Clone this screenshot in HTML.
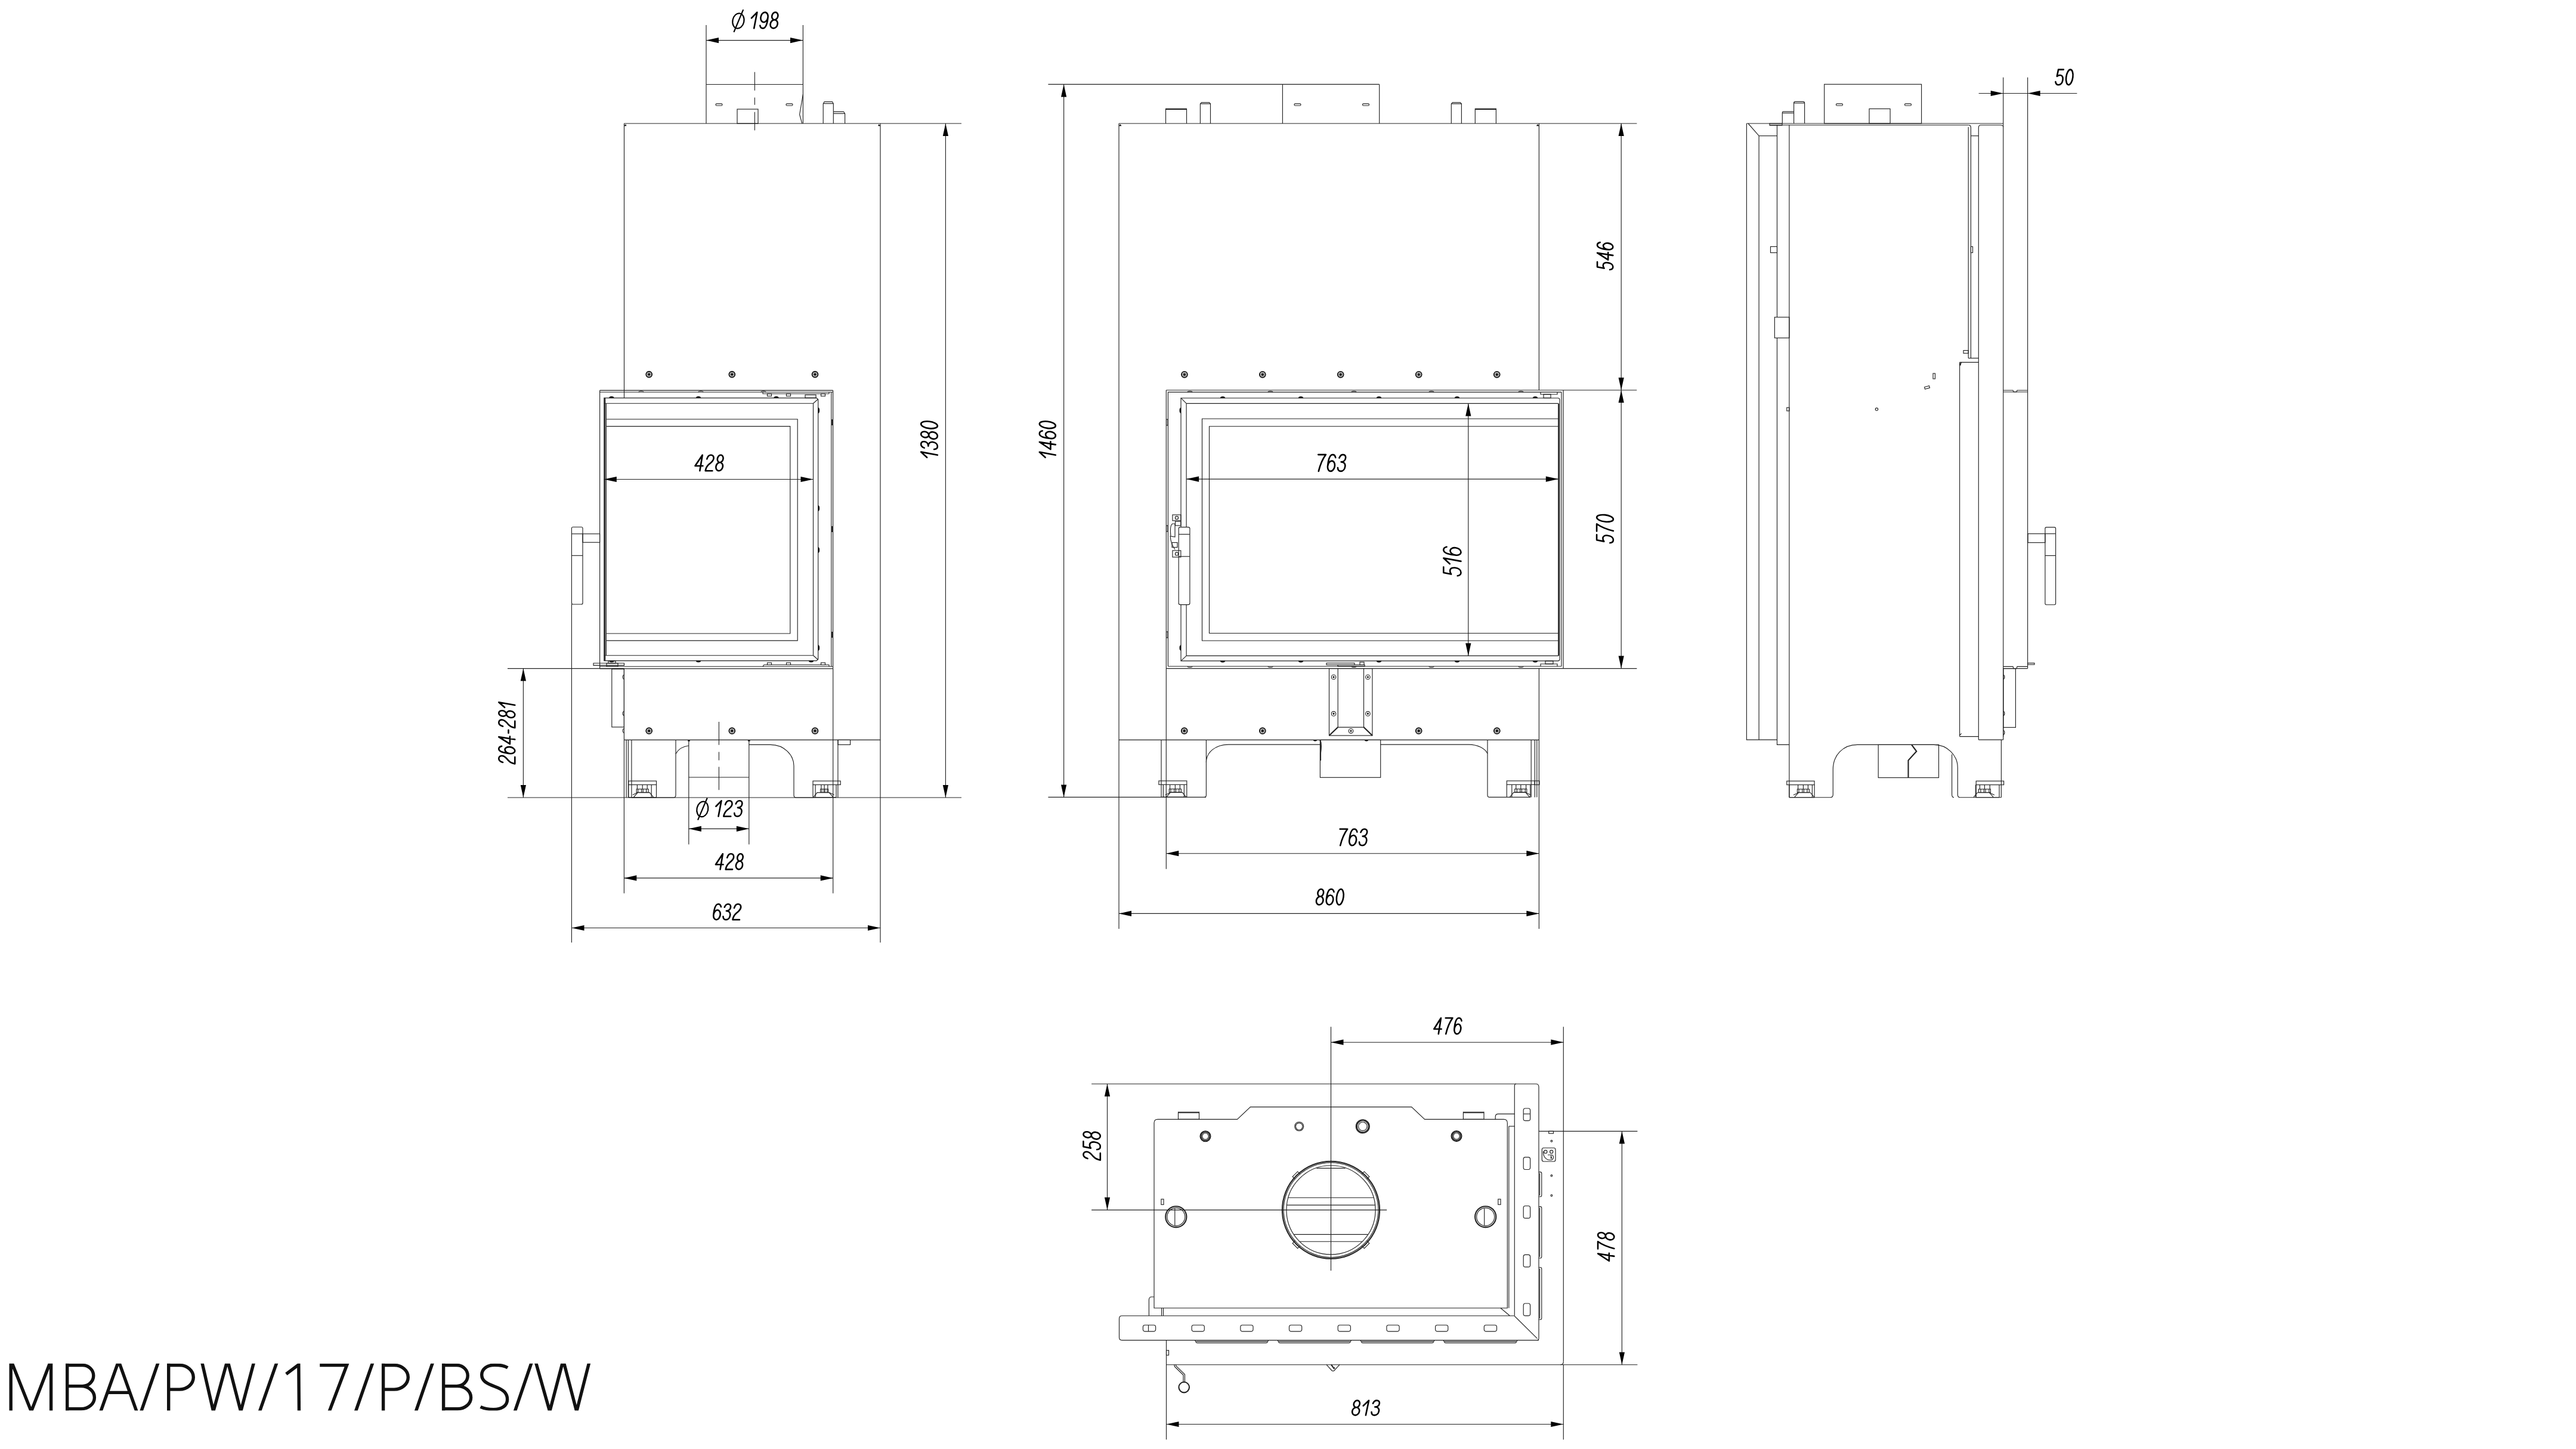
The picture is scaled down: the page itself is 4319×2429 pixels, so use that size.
<!DOCTYPE html>
<html><head><meta charset="utf-8"><title>MBA/PW/17/P/BS/W</title>
<style>
html,body{margin:0;padding:0;background:#fff;}
body{width:4319px;height:2429px;overflow:hidden;}
svg{display:block;}
svg line, svg path, svg rect, svg circle, svg ellipse{fill:none;stroke:#222;stroke-width:1.15;}
svg .thick{stroke-width:2.1;}
svg .thick2{stroke-width:1.25;}
svg .thin{stroke-width:1.1;}
svg .fill{fill:#111;stroke:#111;stroke-width:0.6;}
svg .ar{fill:#000;stroke:none;}
svg .sc{stroke-width:1.9;stroke:#111;}
svg .wf{fill:#fff;}
svg .ht{font-family:"Liberation Sans",sans-serif;fill:#000;fill-opacity:0;stroke:none;}
svg .scg{stroke-width:1.2;stroke:#999;}
.dt{font-family:"Liberation Sans",sans-serif;font-style:italic;fill:#000;}
svg .ttl{fill:none;stroke:#111;stroke-width:5.4;stroke-linejoin:miter;stroke-miterlimit:30;stroke-linecap:butt;}
svg .dg{fill:none;stroke:#000;stroke-width:2.6px;vector-effect:non-scaling-stroke;stroke-linecap:round;stroke-linejoin:round;}
svg .phi{fill:none;stroke:#000;stroke-width:2.2;}
.tt{font-family:"Liberation Sans",sans-serif;font-size:113px;fill:#151515;stroke:#fff;stroke-width:4.5px;paint-order:normal;}
</style></head>
<body>
<svg width="4319" height="2429" viewBox="0 0 4319 2429">
<rect x="0" y="0" width="4319" height="2429" style="fill:#fff;stroke:none"/>
<line x1="1046.5" y1="207" x2="1612" y2="207"/>
<line x1="1046.5" y1="207" x2="1046.5" y2="667"/>
<line x1="1476" y1="207" x2="1476" y2="1580"/>
<path d="M1046.5,211 L1049,208.5 L1050,211Z" class="fill"/>
<path d="M1476,211 L1473.5,208.5 L1472.5,211Z" class="fill"/>
<line x1="1184" y1="42" x2="1184" y2="207"/>
<line x1="1346.4" y1="42" x2="1346.4" y2="207"/>
<path d="M1346.4,158 L1340.6,192 L1344.8,207"/>
<line x1="1184" y1="141.5" x2="1346" y2="141.5"/>
<rect x="1236" y="183" width="35" height="24"/>
<rect x="1200" y="173.8" width="11" height="3.2" rx="1.5"/>
<rect x="1318" y="173.8" width="11" height="3.2" rx="1.5"/>
<path d="M1265.4,120.8 L1265.4,151.8 M1265.4,163.4 L1265.4,175.8 M1265.4,187.8 L1265.4,218.4" class="thin"/>
<path d="M1380.2,207 L1380.2,173.8 L1382.2,170.6 L1395.5,170.6 L1397.3,173.8 L1397.3,207"/>
<line x1="1380.2" y1="173.6" x2="1397.3" y2="173.6"/>
<path d="M1397.3,187.3 L1414.5,187.3 L1416.6,190.5 L1416.6,207"/>
<line x1="1397.3" y1="190.4" x2="1416.6" y2="190.4"/>
<line x1="1184" y1="67.6" x2="1346" y2="67.6"/>
<path class="ar" d="M1184,67.6 L1205,63 L1205,72.2 Z"/>
<path class="ar" d="M1346,67.6 L1325,72.2 L1325,63 Z"/>
<circle cx="1088.2" cy="627.6" r="4.9" class="sc"/>
<circle cx="1088.2" cy="627.6" r="2.9" class="scg"/>
<circle cx="1088.2" cy="627.6" r="1.9" class="fill"/>
<circle cx="1227.3" cy="627.6" r="4.9" class="sc"/>
<circle cx="1227.3" cy="627.6" r="2.9" class="scg"/>
<circle cx="1227.3" cy="627.6" r="1.9" class="fill"/>
<circle cx="1366.5" cy="627.6" r="4.9" class="sc"/>
<circle cx="1366.5" cy="627.6" r="2.9" class="scg"/>
<circle cx="1366.5" cy="627.6" r="1.9" class="fill"/>
<line x1="1005.6" y1="654.4" x2="1396.6" y2="654.4"/>
<line x1="1005.6" y1="657.2" x2="1396.6" y2="657.2"/>
<line x1="1005.6" y1="654.4" x2="1005.6" y2="1120.8"/>
<line x1="1396.6" y1="654.4" x2="1396.6" y2="1120.8"/>
<line x1="1393.8" y1="657.2" x2="1393.8" y2="1117.2"/>
<line x1="1005.6" y1="1117.2" x2="1396.6" y2="1117.2"/>
<path d="M1012.8,1107.6 L1012.8,667.1 L1369,667.1 L1371.7,669.5 L1371.7,1105 L1369,1107.6 Z"/>
<line x1="1012.8" y1="676.2" x2="1363.5" y2="676.2"/>
<line x1="1012.8" y1="1098.7" x2="1363.5" y2="1098.7"/>
<line x1="1363.5" y1="676.2" x2="1363.5" y2="1098.7"/>
<line x1="1363.5" y1="676.2" x2="1371.7" y2="669"/>
<line x1="1363.5" y1="1098.7" x2="1371.7" y2="1106"/>
<line x1="1014.2" y1="667.1" x2="1014.2" y2="1107.6" class="thick"/>
<line x1="1016.4" y1="676.2" x2="1016.4" y2="1098.7"/>
<path d="M1016.4,702.7 L1337.2,702.7 L1337.2,1073.9 L1016.4,1073.9"/>
<path d="M1016.4,714.6 L1324.8,714.6 L1324.8,1062 L1016.4,1062"/>
<path d="M1371.7,683.5 a2.2,4.5 0 0 1 0,9" class="fill"/>
<path d="M1371.7,847.5 a2.2,4.5 0 0 1 0,9" class="fill"/>
<path d="M1371.7,917.5 a2.2,4.5 0 0 1 0,9" class="fill"/>
<path d="M1371.7,1081.5 a2.2,4.5 0 0 1 0,9" class="fill"/>
<line x1="1395.2" y1="703" x2="1395.2" y2="713" class="thick"/>
<line x1="1395.2" y1="882" x2="1395.2" y2="892" class="thick"/>
<line x1="1395.2" y1="1059" x2="1395.2" y2="1069" class="thick"/>
<path d="M1021.3,667.1 a4,2.5 0 0 1 8,0" class="fill"/>
<path d="M1167,667.1 a4,2.5 0 0 1 8,0" class="fill"/>
<path d="M1297.5,667.1 a4,2.5 0 0 1 8,0" class="fill"/>
<path d="M1071,657.2 a4,1.5 0 0 1 8,0"/>
<path d="M1171,657.2 a4,1.5 0 0 1 8,0"/>
<path d="M1276,657.2 a4,1.5 0 0 1 8,0"/>
<path d="M1279,657.2 L1279,660 L1390,660 L1390,657.2"/>
<rect x="1286.5" y="660" width="7" height="4"/>
<rect x="1318.5" y="660" width="7" height="4"/>
<rect x="1376.5" y="660" width="7" height="4"/>
<rect x="1350" y="662" width="18" height="5.1"/>
<path d="M1021.5,1107.6 a4,2.5 0 0 0 8,0" class="fill"/>
<path d="M1167,1107.6 a4,2.5 0 0 0 8,0" class="fill"/>
<path d="M1356,1107.6 a4,2.5 0 0 0 8,0" class="fill"/>
<path d="M1279,1117.2 L1281,1114.5 L1390,1114.5 L1390,1117.2"/>
<rect x="1286.5" y="1111" width="7" height="3.5"/>
<rect x="1318.5" y="1111" width="7" height="3.5"/>
<rect x="1376.5" y="1111" width="7" height="3.5"/>
<path d="M958.4,1011 L958.4,885.5 Q958.4,883.5 961,883.5 L974.5,883.5 Q977,883.5 977,885.5 L977,1011 Q977,1013 974.5,1013 L961,1013 Q958.4,1013 958.4,1011Z"/>
<line x1="958.4" y1="894.9" x2="977" y2="894.9"/>
<line x1="958.4" y1="931.3" x2="977" y2="931.3"/>
<rect x="977" y="894.9" width="28.6" height="14.3"/>
<path d="M995,1111.7 L1046.5,1111.7 L1046.5,1115.3 L995,1115.3 Z"/>
<rect x="1017" y="1111.7" width="19" height="5.5"/>
<rect x="1020" y="1108" width="12" height="3.7"/>
<line x1="1046.4" y1="1120.8" x2="1046.4" y2="1497.4"/>
<line x1="1396.7" y1="1120.8" x2="1396.7" y2="1497.4"/>
<rect x="1025.8" y="1121.6" width="20.6" height="97.2"/>
<path d="M1046.4,1131.5 a2.2,3.5 0 0 0 0,7"/>
<path d="M1046.4,1192.5 a2.2,3.5 0 0 0 0,7"/>
<path d="M1046.4,1221.5 a2.2,3.5 0 0 0 0,7"/>
<circle cx="1088.2" cy="1225.2" r="4.9" class="sc"/>
<circle cx="1088.2" cy="1225.2" r="2.9" class="scg"/>
<circle cx="1088.2" cy="1225.2" r="1.9" class="fill"/>
<circle cx="1227.3" cy="1225.2" r="4.9" class="sc"/>
<circle cx="1227.3" cy="1225.2" r="2.9" class="scg"/>
<circle cx="1227.3" cy="1225.2" r="1.9" class="fill"/>
<circle cx="1366.5" cy="1225.2" r="4.9" class="sc"/>
<circle cx="1366.5" cy="1225.2" r="2.9" class="scg"/>
<circle cx="1366.5" cy="1225.2" r="1.9" class="fill"/>
<line x1="1046.4" y1="1240.4" x2="1476" y2="1240.4"/>
<rect x="1405" y="1240.4" width="20.6" height="8"/>
<line x1="1050.1" y1="1240.4" x2="1050.1" y2="1337"/>
<line x1="1053.4" y1="1240.4" x2="1053.4" y2="1337"/>
<line x1="1058.9" y1="1240.4" x2="1058.9" y2="1337"/>
<line x1="1404.9" y1="1240.4" x2="1404.9" y2="1337"/>
<path d="M1058.9,1337 L1129,1337 Q1133,1337 1133,1333 L1133,1240.4"/>
<path d="M1133,1263.6 Q1140,1251.5 1155,1250"/>
<path d="M1255.8,1248.4 L1292,1248.4 C1315,1248.4 1331,1266 1331,1284 L1331,1333 Q1331,1337 1335,1337 L1363.5,1337"/>
<line x1="1154.8" y1="1240.4" x2="1154.8" y2="1415.5"/>
<line x1="1255.8" y1="1240.4" x2="1255.8" y2="1415.5"/>
<line x1="1154.8" y1="1303" x2="1255.8" y2="1303"/>
<path d="M1155,1240.4 l2,1.8 l-4,0 Z" class="fill"/>
<path d="M1255.8,1240.4 l2,1.8 l-4,0 Z" class="fill"/>
<path d="M1205.4,1210.1 L1205.4,1248.8 M1205.4,1260.4 L1205.4,1274.4 M1205.4,1285.5 L1205.4,1324.2" class="thin"/>
<rect x="1053.9" y="1309.2" width="46.6" height="6.3"/>
<line x1="1053.9" y1="1315.5" x2="1053.9" y2="1336.6"/>
<line x1="1100.5" y1="1315.5" x2="1100.5" y2="1336.6"/>
<line x1="1092.2" y1="1315.5" x2="1092.2" y2="1336.6"/>
<line x1="1085.2" y1="1315.5" x2="1085.2" y2="1322.8"/>
<line x1="1077.2" y1="1315.5" x2="1077.2" y2="1322.8"/>
<line x1="1068.4" y1="1315.5" x2="1068.4" y2="1322.8"/>
<rect x="1067.2" y="1322.8" width="20" height="5.5"/>
<line x1="1083.7" y1="1322.8" x2="1083.7" y2="1328.3"/>
<line x1="1078.2" y1="1322.8" x2="1078.2" y2="1328.3"/>
<line x1="1075.7" y1="1322.8" x2="1075.7" y2="1328.3"/>
<line x1="1069.7" y1="1322.8" x2="1069.7" y2="1328.3"/>
<path d="M1095.7,1336.6 L1089.2,1328.6 L1069.2,1328.6 L1062.2,1336.6"/>
<path d="M1069.2,1328.6 L1060.7,1332.6"/>
<line x1="1053.9" y1="1336.6" x2="1100.5" y2="1336.6"/>
<rect x="1363" y="1309.2" width="46.2" height="6.3"/>
<line x1="1363" y1="1315.5" x2="1363" y2="1336.6"/>
<line x1="1402" y1="1315.5" x2="1402" y2="1336.6"/>
<line x1="1367.1" y1="1315.5" x2="1367.1" y2="1336.6"/>
<line x1="1376.9" y1="1315.5" x2="1376.9" y2="1322.8"/>
<line x1="1382.1" y1="1315.5" x2="1382.1" y2="1322.8"/>
<line x1="1387.82" y1="1315.5" x2="1387.82" y2="1322.8"/>
<rect x="1375.6" y="1322.8" width="13" height="5.5"/>
<line x1="1377.88" y1="1322.8" x2="1377.88" y2="1328.3"/>
<line x1="1381.45" y1="1322.8" x2="1381.45" y2="1328.3"/>
<line x1="1383.07" y1="1322.8" x2="1383.07" y2="1328.3"/>
<line x1="1386.97" y1="1322.8" x2="1386.97" y2="1328.3"/>
<path d="M1363.6,1336.6 L1370.1,1328.6 L1390.1,1328.6 L1397.1,1336.6"/>
<path d="M1390.1,1328.6 L1398.6,1332.6"/>
<line x1="1363" y1="1336.6" x2="1402" y2="1336.6"/>
<line x1="851" y1="1337" x2="1612" y2="1337"/>
<line x1="851" y1="1120.6" x2="1046.4" y2="1120.6"/>
<line x1="1005.6" y1="1120.8" x2="1396.6" y2="1120.8"/>
<line x1="958.4" y1="1013" x2="958.4" y2="1580"/>
<line x1="1585.4" y1="207" x2="1585.4" y2="1337"/>
<path class="ar" d="M1585.4,207 L1590,228 L1580.8,228 Z"/>
<path class="ar" d="M1585.4,1337 L1580.8,1316 L1590,1316 Z"/>
<path class="dg" transform="translate(1558,736.5) rotate(-90) translate(-32.29,-13.85) matrix(26.5208,0,-3.1825,27.7000,3.1825,0)" d="M 0 0.36 L 0.3 0 L 0.23 1 M 0.58 0.2 C 0.62 0.07 0.69 0 0.79 0 C 0.91 0 0.98 0.08 0.98 0.2 C 0.98 0.33 0.89 0.44 0.73 0.44 M 0.73 0.44 C 0.91 0.44 1.01 0.55 1.01 0.71 C 1.01 0.88 0.91 1 0.77 1 C 0.66 1 0.58 0.93 0.56 0.79 M 1.43 0 C 1.532 0 1.615 0.1052 1.615 0.235 C 1.615 0.3648 1.532 0.47 1.43 0.47 C 1.328 0.47 1.245 0.3648 1.245 0.235 C 1.245 0.1052 1.328 0 1.43 0 M 1.43 0.47 C 1.552 0.47 1.65 0.5886 1.65 0.735 C 1.65 0.8814 1.552 1 1.43 1 C 1.308 1 1.21 0.8814 1.21 0.735 C 1.21 0.5886 1.308 0.47 1.43 0.47 M 2.07 0 C 2.192 0 2.29 0.2238 2.29 0.5 C 2.29 0.7762 2.192 1 2.07 1 C 1.948 1 1.85 0.7762 1.85 0.5 C 1.85 0.2238 1.948 0 2.07 0"/>
<text class="ht" transform="translate(1558,736.5) rotate(-90)" x="0" y="10" text-anchor="middle" style="font-size:28px">1380</text>
<line x1="877.4" y1="1120.6" x2="877.4" y2="1337"/>
<path class="ar" d="M877.4,1120.6 L882,1141.6 L872.8,1141.6 Z"/>
<path class="ar" d="M877.4,1337 L872.8,1316 L882,1316 Z"/>
<path class="dg" transform="translate(849.8,1228.8) rotate(-90) translate(-51.6,-13.5) matrix(25.0485,0,-3.0058,27.0000,3.0058,0)" d="M 0.01 0.25 C 0.04 0.09 0.12 0 0.23 0 C 0.36 0 0.44 0.09 0.44 0.22 C 0.44 0.36 0.34 0.46 0.19 0.58 C 0.07 0.69 0.01 0.82 0 1 L 0.45 1 M 1.08 0.18 C 1.04 0.06 0.96 0 0.88 0 C 0.73 0 0.65 0.24 0.65 0.6 L 0.65 0.69 M 0.87 0.38 C 0.9915 0.38 1.09 0.5188 1.09 0.69 C 1.09 0.8612 0.9915 1 0.87 1 C 0.7485 1 0.65 0.8612 0.65 0.69 C 0.65 0.5188 0.7485 0.38 0.87 0.38 M 1.63 1 L 1.68 0 L 1.29 0.69 L 1.79 0.69 M 2.01 0.6 L 2.21 0.6 M 2.42 0.25 C 2.45 0.09 2.53 0 2.64 0 C 2.77 0 2.85 0.09 2.85 0.22 C 2.85 0.36 2.75 0.46 2.6 0.58 C 2.48 0.69 2.42 0.82 2.41 1 L 2.86 1 M 3.28 0 C 3.382 0 3.465 0.1052 3.465 0.235 C 3.465 0.3648 3.382 0.47 3.28 0.47 C 3.178 0.47 3.095 0.3648 3.095 0.235 C 3.095 0.1052 3.178 0 3.28 0 M 3.28 0.47 C 3.402 0.47 3.5 0.5886 3.5 0.735 C 3.5 0.8814 3.402 1 3.28 1 C 3.158 1 3.06 0.8814 3.06 0.735 C 3.06 0.5886 3.158 0.47 3.28 0.47 M 3.7 0.36 L 4 0 L 3.93 1"/>
<text class="ht" transform="translate(849.8,1228.8) rotate(-90)" x="0" y="10" text-anchor="middle" style="font-size:28px">264-281</text>
<line x1="958.5" y1="1555.5" x2="1476" y2="1555.5"/>
<path class="ar" d="M958.5,1555.5 L979.5,1550.9 L979.5,1560.1 Z"/>
<path class="ar" d="M1476,1555.5 L1455,1560.1 L1455,1550.9 Z"/>
<path class="dg" transform="translate(1195.38,1515.5) matrix(25.6179,0,-3.0741,26.2000,3.0741,0)" d="M 0.43 0.18 C 0.39 0.06 0.31 0 0.23 0 C 0.08 0 0 0.24 0 0.6 L 0 0.69 M 0.22 0.38 C 0.3415 0.38 0.44 0.5188 0.44 0.69 C 0.44 0.8612 0.3415 1 0.22 1 C 0.09849 1 0 0.8612 0 0.69 C 0 0.5188 0.09849 0.38 0.22 0.38 M 0.66 0.2 C 0.7 0.07 0.77 0 0.87 0 C 0.99 0 1.06 0.08 1.06 0.2 C 1.06 0.33 0.97 0.44 0.81 0.44 M 0.81 0.44 C 0.99 0.44 1.09 0.55 1.09 0.71 C 1.09 0.88 0.99 1 0.85 1 C 0.74 1 0.66 0.93 0.64 0.79 M 1.3 0.25 C 1.33 0.09 1.41 0 1.52 0 C 1.65 0 1.73 0.09 1.73 0.22 C 1.73 0.36 1.63 0.46 1.48 0.58 C 1.36 0.69 1.3 0.82 1.29 1 L 1.74 1"/>
<text class="ht" x="1219.2" y="1538.6" text-anchor="middle" style="font-size:28px">632</text>
<line x1="1046.4" y1="1471.9" x2="1396.7" y2="1471.9"/>
<path class="ar" d="M1046.4,1471.9 L1067.4,1467.3 L1067.4,1476.5 Z"/>
<path class="ar" d="M1396.7,1471.9 L1375.7,1476.5 L1375.7,1467.3 Z"/>
<path class="dg" transform="translate(1198.96,1431.25) matrix(25.2794,0,-3.0335,26.1000,3.0335,0)" d="M 0.34 1 L 0.39 0 L 0 0.69 L 0.5 0.69 M 0.71 0.25 C 0.74 0.09 0.82 0 0.93 0 C 1.06 0 1.14 0.09 1.14 0.22 C 1.14 0.36 1.04 0.46 0.89 0.58 C 0.77 0.69 0.71 0.82 0.7 1 L 1.15 1 M 1.57 0 C 1.672 0 1.755 0.1052 1.755 0.235 C 1.755 0.3648 1.672 0.47 1.57 0.47 C 1.468 0.47 1.385 0.3648 1.385 0.235 C 1.385 0.1052 1.468 0 1.57 0 M 1.57 0.47 C 1.692 0.47 1.79 0.5886 1.79 0.735 C 1.79 0.8814 1.692 1 1.57 1 C 1.448 1 1.35 0.8814 1.35 0.735 C 1.35 0.5886 1.448 0.47 1.57 0.47"/>
<text class="ht" x="1222.8" y="1454.3" text-anchor="middle" style="font-size:28px">428</text>
<line x1="1154.8" y1="1389.3" x2="1255.8" y2="1389.3"/>
<path class="ar" d="M1154.8,1389.3 L1175.8,1384.7 L1175.8,1393.9 Z"/>
<path class="ar" d="M1255.8,1389.3 L1234.8,1393.9 L1234.8,1384.7 Z"/>
<ellipse cx="1177.8" cy="1356.4" rx="9.4" ry="12.9" transform="rotate(12 1177.8 1356.4)" class="phi"/>
<line x1="1185.8" y1="1337.6" x2="1170" y2="1374.6" class="phi"/>
<path class="dg" transform="translate(1198.35,1342.3) matrix(26.6458,0,-3.1975,26.2000,3.1975,0)" d="M 0 0.36 L 0.3 0 L 0.23 1 M 0.57 0.25 C 0.6 0.09 0.68 0 0.79 0 C 0.92 0 1 0.09 1 0.22 C 1 0.36 0.9 0.46 0.75 0.58 C 0.63 0.69 0.57 0.82 0.56 1 L 1.01 1 M 1.23 0.2 C 1.27 0.07 1.34 0 1.44 0 C 1.56 0 1.63 0.08 1.63 0.2 C 1.63 0.33 1.54 0.44 1.38 0.44 M 1.38 0.44 C 1.56 0.44 1.66 0.55 1.66 0.71 C 1.66 0.88 1.56 1 1.42 1 C 1.31 1 1.23 0.93 1.21 0.79"/>
<text class="ht" x="1222.4" y="1365.4" text-anchor="middle" style="font-size:28px">123</text>
<line x1="1012.8" y1="803.5" x2="1363.5" y2="803.5"/>
<path class="ar" d="M1012.8,803.5 L1033.8,798.9 L1033.8,808.1 Z"/>
<path class="ar" d="M1363.5,803.5 L1342.5,808.1 L1342.5,798.9 Z"/>
<path class="dg" transform="translate(1164.48,762.8) matrix(25.9969,0,-3.1196,26.4000,3.1196,0)" d="M 0.34 1 L 0.39 0 L 0 0.69 L 0.5 0.69 M 0.71 0.25 C 0.74 0.09 0.82 0 0.93 0 C 1.06 0 1.14 0.09 1.14 0.22 C 1.14 0.36 1.04 0.46 0.89 0.58 C 0.77 0.69 0.71 0.82 0.7 1 L 1.15 1 M 1.57 0 C 1.672 0 1.755 0.1052 1.755 0.235 C 1.755 0.3648 1.672 0.47 1.57 0.47 C 1.468 0.47 1.385 0.3648 1.385 0.235 C 1.385 0.1052 1.468 0 1.57 0 M 1.57 0.47 C 1.692 0.47 1.79 0.5886 1.79 0.735 C 1.79 0.8814 1.692 1 1.57 1 C 1.448 1 1.35 0.8814 1.35 0.735 C 1.35 0.5886 1.448 0.47 1.57 0.47"/>
<text class="ht" x="1189" y="786" text-anchor="middle" style="font-size:28px">428</text>
<ellipse cx="1237.9" cy="35" rx="9.5" ry="12.8" transform="rotate(12 1237.9 35)" class="phi"/>
<line x1="1246.2" y1="16.1" x2="1230.4" y2="53.9" class="phi"/>
<path class="dg" transform="translate(1257.9,20.6) matrix(27.3710,0,-3.2845,26.8000,3.2845,0)" d="M 0 0.36 L 0.3 0 L 0.23 1 M 0.78 0 C 0.9015 0 1 0.1388 1 0.31 C 1 0.4812 0.9015 0.62 0.78 0.62 C 0.6585 0.62 0.56 0.4812 0.56 0.31 C 0.56 0.1388 0.6585 0 0.78 0 M 1 0.31 L 1 0.4 C 1 0.76 0.92 1 0.77 1 C 0.68 1 0.61 0.95 0.58 0.83 M 1.42 0 C 1.522 0 1.605 0.1052 1.605 0.235 C 1.605 0.3648 1.522 0.47 1.42 0.47 C 1.318 0.47 1.235 0.3648 1.235 0.235 C 1.235 0.1052 1.318 0 1.42 0 M 1.42 0.47 C 1.542 0.47 1.64 0.5886 1.64 0.735 C 1.64 0.8814 1.542 1 1.42 1 C 1.298 1 1.2 0.8814 1.2 0.735 C 1.2 0.5886 1.298 0.47 1.42 0.47"/>
<text class="ht" x="1282.2" y="44" text-anchor="middle" style="font-size:28px">198</text>
<line x1="1876" y1="207" x2="2744.4" y2="207"/>
<line x1="1757.4" y1="141.4" x2="2312.7" y2="141.4"/>
<line x1="2150.4" y1="141.4" x2="2150.4" y2="207"/>
<line x1="2312.7" y1="141.4" x2="2312.7" y2="207"/>
<rect x="2170" y="173.8" width="11" height="3.2" rx="1.5"/>
<rect x="2284.5" y="173.8" width="11" height="3.2" rx="1.5"/>
<path d="M1954.5,207 L1954.5,182.3 L1989.5,182.3 L1989.5,207"/>
<line x1="1954.5" y1="183.3" x2="1989.5" y2="183.3"/>
<path d="M2012.4,207 L2012.4,174 L2014.5,171.8 L2027.5,171.8 L2029.5,174 L2029.5,207"/>
<line x1="2012.4" y1="174" x2="2029.5" y2="174"/>
<path d="M2433.3,207 L2433.3,174 L2435.4,171.8 L2448.3,171.8 L2450.4,174 L2450.4,207"/>
<line x1="2433.3" y1="174" x2="2450.4" y2="174"/>
<path d="M2473.3,207 L2473.3,182.3 L2508.4,182.3 L2508.4,207"/>
<line x1="2473.3" y1="183.3" x2="2508.4" y2="183.3"/>
<path d="M1876,211 L1878.5,208.5 L1880,211Z" class="fill"/>
<path d="M2580.4,211 L2577.9,208.5 L2576.4,211Z" class="fill"/>
<line x1="1876" y1="207" x2="1876" y2="1557.1"/>
<line x1="2580.4" y1="207" x2="2580.4" y2="654"/>
<line x1="2580.4" y1="1120.6" x2="2580.4" y2="1557.1"/>
<circle cx="1985.9" cy="627.8" r="4.9" class="sc"/>
<circle cx="1985.9" cy="627.8" r="2.9" class="scg"/>
<circle cx="1985.9" cy="627.8" r="1.9" class="fill"/>
<circle cx="2116.8" cy="627.8" r="4.9" class="sc"/>
<circle cx="2116.8" cy="627.8" r="2.9" class="scg"/>
<circle cx="2116.8" cy="627.8" r="1.9" class="fill"/>
<circle cx="2247.7" cy="627.8" r="4.9" class="sc"/>
<circle cx="2247.7" cy="627.8" r="2.9" class="scg"/>
<circle cx="2247.7" cy="627.8" r="1.9" class="fill"/>
<circle cx="2378.7" cy="627.8" r="4.9" class="sc"/>
<circle cx="2378.7" cy="627.8" r="2.9" class="scg"/>
<circle cx="2378.7" cy="627.8" r="1.9" class="fill"/>
<circle cx="2509.7" cy="627.8" r="4.9" class="sc"/>
<circle cx="2509.7" cy="627.8" r="2.9" class="scg"/>
<circle cx="2509.7" cy="627.8" r="1.9" class="fill"/>
<line x1="1955.3" y1="654" x2="2744.3" y2="654"/>
<line x1="1958.4" y1="657.3" x2="2618" y2="657.3"/>
<line x1="1955.3" y1="654" x2="1955.3" y2="1456.8"/>
<line x1="1958.4" y1="657.3" x2="1958.4" y2="1117"/>
<line x1="2621.1" y1="654" x2="2621.1" y2="1120.6"/>
<line x1="2618" y1="657.3" x2="2618" y2="1117"/>
<line x1="1958.4" y1="1117" x2="2618" y2="1117"/>
<line x1="1955.3" y1="1120.6" x2="2744.4" y2="1120.6"/>
<path d="M1980,1107.8 L1980,667.2 L2612,667.2 Q2615,667.2 2615,670 L2615,1105 Q2615,1107.8 2612,1107.8 Z"/>
<line x1="1989.1" y1="676.4" x2="2612.8" y2="676.4"/>
<line x1="1989.1" y1="1099.3" x2="2612.8" y2="1099.3"/>
<line x1="1989.1" y1="676.4" x2="1989.1" y2="1099.3"/>
<line x1="1980" y1="667.2" x2="1989.1" y2="676.4"/>
<line x1="1980" y1="1107.8" x2="1989.1" y2="1099.3"/>
<line x1="2613.2" y1="676.4" x2="2613.2" y2="1099.3" class="thick"/>
<path d="M2612.8,702 L2015.5,702 L2015.5,1074 L2612.8,1074"/>
<path d="M2612.8,714.7 L2027.5,714.7 L2027.5,1061.5 L2612.8,1061.5"/>
<path d="M2046,667.2 a4,2.5 0 0 1 8,0" class="fill"/>
<path d="M2046,1107.8 a4,2.5 0 0 0 8,0" class="fill"/>
<path d="M2177,667.2 a4,2.5 0 0 1 8,0" class="fill"/>
<path d="M2177,1107.8 a4,2.5 0 0 0 8,0" class="fill"/>
<path d="M2308,667.2 a4,2.5 0 0 1 8,0" class="fill"/>
<path d="M2308,1107.8 a4,2.5 0 0 0 8,0" class="fill"/>
<path d="M2439,667.2 a4,2.5 0 0 1 8,0" class="fill"/>
<path d="M2439,1107.8 a4,2.5 0 0 0 8,0" class="fill"/>
<path d="M2570,667.2 a4,2.5 0 0 1 8,0" class="fill"/>
<path d="M2570,1107.8 a4,2.5 0 0 0 8,0" class="fill"/>
<path d="M1991,657.3 a4,1.5 0 0 1 8,0"/>
<path d="M1991,1117 a4,1.5 0 0 0 8,0"/>
<path d="M2126,657.3 a4,1.5 0 0 1 8,0"/>
<path d="M2126,1117 a4,1.5 0 0 0 8,0"/>
<path d="M2266,657.3 a4,1.5 0 0 1 8,0"/>
<path d="M2266,1117 a4,1.5 0 0 0 8,0"/>
<path d="M2396,657.3 a4,1.5 0 0 1 8,0"/>
<path d="M2396,1117 a4,1.5 0 0 0 8,0"/>
<path d="M2546,657.3 a4,1.5 0 0 1 8,0"/>
<path d="M2546,1117 a4,1.5 0 0 0 8,0"/>
<path d="M1980,683.5 a2.2,4.5 0 0 0 0,9" class="fill"/>
<path d="M1980,1081.5 a2.2,4.5 0 0 0 0,9" class="fill"/>
<rect x="1955.6" y="703" width="2.4" height="10"/>
<rect x="1955.6" y="881" width="2.4" height="10"/>
<rect x="1955.6" y="1059" width="2.4" height="10"/>
<path d="M2583,657.3 L2583,661 L2611,661 L2611,657.3"/>
<rect x="2588" y="661" width="12" height="6.2"/>
<path d="M2583,1117 L2583,1113 L2611,1113 L2611,1117"/>
<rect x="2591" y="1108" width="13" height="5"/>
<path d="M1976.2,1011 L1976.2,886 Q1976.2,883.6 1979,883.6 L1992,883.6 Q1994.9,883.6 1994.9,886 L1994.9,1011 Q1994.9,1013.6 1992,1013.6 L1979,1013.6 Q1976.2,1013.6 1976.2,1011Z" class="wf"/>
<line x1="1976.2" y1="895.6" x2="1994.9" y2="895.6"/>
<line x1="1976.2" y1="932.8" x2="1994.9" y2="932.8"/>
<rect x="1965.9" y="863" width="13.9" height="9.8"/>
<circle cx="1973" cy="867.9" r="2.6"/>
<rect x="1965.9" y="922.9" width="13.9" height="11"/>
<circle cx="1973" cy="928.4" r="2.6"/>
<rect x="1965" y="909.5" width="9" height="8"/>
<rect x="1970.5" y="874" width="9.3" height="7"/>
<path d="M1963,899 Q1961,880 1966,878 L1970,878 L1970,900 Z"/>
<path d="M1962,898 Q1963,912 1970,921"/>
<rect x="2228.5" y="1120.6" width="72.4" height="112.4"/>
<path d="M2243.2,1120.6 L2243.2,1219.1 L2286.5,1219.1 L2286.5,1120.6"/>
<line x1="2228.5" y1="1233" x2="2243.2" y2="1219.1" class="thick"/>
<line x1="2300.9" y1="1233" x2="2286.5" y2="1219.1" class="thick"/>
<circle cx="2236" cy="1135" r="3.8"/>
<circle cx="2236" cy="1135" r="1.3" class="fill"/>
<circle cx="2293.4" cy="1135" r="3.8"/>
<circle cx="2293.4" cy="1135" r="1.3" class="fill"/>
<circle cx="2236" cy="1196.4" r="3.8"/>
<circle cx="2236" cy="1196.4" r="1.3" class="fill"/>
<circle cx="2293.4" cy="1196.4" r="3.8"/>
<circle cx="2293.4" cy="1196.4" r="1.3" class="fill"/>
<circle cx="2265" cy="1225.3" r="3.8"/>
<circle cx="2265" cy="1225.3" r="1.3" class="fill"/>
<rect x="2224" y="1111.5" width="47" height="3"/>
<rect x="2243" y="1114.5" width="45" height="2.5"/>
<rect x="2280" y="1110" width="7" height="4.5"/>
<circle cx="1985.7" cy="1225.2" r="4.9" class="sc"/>
<circle cx="1985.7" cy="1225.2" r="2.9" class="scg"/>
<circle cx="1985.7" cy="1225.2" r="1.9" class="fill"/>
<circle cx="2116.8" cy="1225.2" r="4.9" class="sc"/>
<circle cx="2116.8" cy="1225.2" r="2.9" class="scg"/>
<circle cx="2116.8" cy="1225.2" r="1.9" class="fill"/>
<circle cx="2378.7" cy="1225.2" r="4.9" class="sc"/>
<circle cx="2378.7" cy="1225.2" r="2.9" class="scg"/>
<circle cx="2378.7" cy="1225.2" r="1.9" class="fill"/>
<circle cx="2509.8" cy="1225.2" r="4.9" class="sc"/>
<circle cx="2509.8" cy="1225.2" r="2.9" class="scg"/>
<circle cx="2509.8" cy="1225.2" r="1.9" class="fill"/>
<line x1="1876" y1="1240.4" x2="2580.4" y2="1240.4"/>
<line x1="1947" y1="1240.4" x2="1947" y2="1336.4"/>
<path d="M2022.4,1240.4 L2022.4,1333 Q2022.4,1336.4 2019,1336.4"/>
<path d="M2022.4,1278 C2022.4,1261 2038,1248.1 2060,1248.1 L2213.4,1248.1"/>
<rect x="2213.4" y="1240.4" width="101.3" height="62.9"/>
<path d="M2213.4,1240.4 C2216,1248 2215,1255 2214,1262 L2214,1275" class="thick"/>
<path d="M2314.7,1248.1 L2462.8,1248.1 C2478,1248.1 2490,1255 2494,1263.3"/>
<path d="M2494,1240.4 L2494,1333 Q2494,1336.4 2497.5,1336.4 L2526,1336.4"/>
<line x1="2567.2" y1="1240.4" x2="2567.2" y2="1336.4"/>
<line x1="2573.3" y1="1240.4" x2="2573.3" y2="1336.4"/>
<line x1="2576.8" y1="1240.4" x2="2576.8" y2="1336.4"/>
<path d="M2202,1240.4 a3,1.8 0 0 0 6,0" class="fill"/>
<path d="M2288,1240.4 a3,1.8 0 0 0 6,0" class="fill"/>
<rect x="1942.9" y="1309" width="46.9" height="6.3"/>
<line x1="1950.4" y1="1315.3" x2="1950.4" y2="1336.4"/>
<line x1="1989.8" y1="1315.3" x2="1989.8" y2="1336.4"/>
<line x1="1985.35" y1="1315.3" x2="1985.35" y2="1336.4"/>
<line x1="1978.35" y1="1315.3" x2="1978.35" y2="1322.6"/>
<line x1="1970.35" y1="1315.3" x2="1970.35" y2="1322.6"/>
<line x1="1961.55" y1="1315.3" x2="1961.55" y2="1322.6"/>
<rect x="1960.35" y="1322.6" width="20" height="5.5"/>
<line x1="1976.85" y1="1322.6" x2="1976.85" y2="1328.1"/>
<line x1="1971.35" y1="1322.6" x2="1971.35" y2="1328.1"/>
<line x1="1968.85" y1="1322.6" x2="1968.85" y2="1328.1"/>
<line x1="1962.85" y1="1322.6" x2="1962.85" y2="1328.1"/>
<path d="M1988.85,1336.4 L1982.35,1328.4 L1962.35,1328.4 L1955.35,1336.4"/>
<path d="M1962.35,1328.4 L1953.85,1332.4"/>
<line x1="1950.4" y1="1336.4" x2="1989.8" y2="1336.4"/>
<rect x="2526.3" y="1309" width="47" height="6.3"/>
<line x1="2526.3" y1="1315.3" x2="2526.3" y2="1336.4"/>
<line x1="2565.8" y1="1315.3" x2="2565.8" y2="1336.4"/>
<line x1="2534.8" y1="1315.3" x2="2534.8" y2="1336.4"/>
<line x1="2541.8" y1="1315.3" x2="2541.8" y2="1322.6"/>
<line x1="2549.8" y1="1315.3" x2="2549.8" y2="1322.6"/>
<line x1="2558.6" y1="1315.3" x2="2558.6" y2="1322.6"/>
<rect x="2539.8" y="1322.6" width="20" height="5.5"/>
<line x1="2543.3" y1="1322.6" x2="2543.3" y2="1328.1"/>
<line x1="2548.8" y1="1322.6" x2="2548.8" y2="1328.1"/>
<line x1="2551.3" y1="1322.6" x2="2551.3" y2="1328.1"/>
<line x1="2557.3" y1="1322.6" x2="2557.3" y2="1328.1"/>
<path d="M2531.3,1336.4 L2537.8,1328.4 L2557.8,1328.4 L2564.8,1336.4"/>
<path d="M2557.8,1328.4 L2566.3,1332.4"/>
<line x1="2526.3" y1="1336.4" x2="2565.8" y2="1336.4"/>
<rect x="2573.3" y="1309" width="7.7" height="6.5"/>
<line x1="1757.4" y1="1336.4" x2="2022" y2="1336.4"/>
<line x1="1947" y1="1336.4" x2="1989.8" y2="1336.4"/>
<line x1="1783.6" y1="141.4" x2="1783.6" y2="1336.4"/>
<path class="ar" d="M1783.6,141.4 L1788.2,162.4 L1779,162.4 Z"/>
<path class="ar" d="M1783.6,1336.4 L1779,1315.4 L1788.2,1315.4 Z"/>
<path class="dg" transform="translate(1756.3,736.5) rotate(-90) translate(-32.24,-13.5) matrix(25.9520,0,-3.1142,27.0000,3.1142,0)" d="M 0 0.36 L 0.3 0 L 0.23 1 M 0.9 1 L 0.95 0 L 0.56 0.69 L 1.06 0.69 M 1.69 0.18 C 1.65 0.06 1.57 0 1.49 0 C 1.34 0 1.26 0.24 1.26 0.6 L 1.26 0.69 M 1.48 0.38 C 1.602 0.38 1.7 0.5188 1.7 0.69 C 1.7 0.8612 1.602 1 1.48 1 C 1.358 1 1.26 0.8612 1.26 0.69 C 1.26 0.5188 1.358 0.38 1.48 0.38 M 2.12 0 C 2.242 0 2.34 0.2238 2.34 0.5 C 2.34 0.7762 2.242 1 2.12 1 C 1.998 1 1.9 0.7762 1.9 0.5 C 1.9 0.2238 1.998 0 2.12 0"/>
<text class="ht" transform="translate(1756.3,736.5) rotate(-90)" x="0" y="10" text-anchor="middle" style="font-size:28px">1460</text>
<line x1="2718.2" y1="207" x2="2718.2" y2="1120.6"/>
<path class="ar" d="M2718.2,207 L2722.8,228 L2713.6,228 Z"/>
<path class="ar" d="M2718.2,654 L2713.6,633 L2722.8,633 Z"/>
<path class="ar" d="M2718.2,654 L2722.8,675 L2713.6,675 Z"/>
<path class="ar" d="M2718.2,1120.6 L2713.6,1099.6 L2722.8,1099.6 Z"/>
<path class="dg" transform="translate(2691.2,429.2) rotate(-90) translate(-23.44,-13.15) matrix(24.5119,0,-2.9414,26.3000,2.9414,0)" d="M 0.43 0 L 0.09 0 L 0.05 0.44 C 0.11 0.39 0.17 0.37 0.24 0.37 C 0.38 0.37 0.46 0.48 0.46 0.66 C 0.46 0.87 0.36 1 0.22 1 C 0.11 1 0.03 0.93 0 0.8 M 1 1 L 1.05 0 L 0.66 0.69 L 1.16 0.69 M 1.79 0.18 C 1.75 0.06 1.67 0 1.59 0 C 1.44 0 1.36 0.24 1.36 0.6 L 1.36 0.69 M 1.58 0.38 C 1.702 0.38 1.8 0.5188 1.8 0.69 C 1.8 0.8612 1.702 1 1.58 1 C 1.458 1 1.36 0.8612 1.36 0.69 C 1.36 0.5188 1.458 0.38 1.58 0.38"/>
<text class="ht" transform="translate(2691.2,429.2) rotate(-90)" x="0" y="10" text-anchor="middle" style="font-size:28px">546</text>
<path class="dg" transform="translate(2691,886.5) rotate(-90) translate(-24.17,-13.9) matrix(25.9644,0,-3.1157,27.8000,3.1157,0)" d="M 0.43 0 L 0.09 0 L 0.05 0.44 C 0.11 0.39 0.17 0.37 0.24 0.37 C 0.38 0.37 0.46 0.48 0.46 0.66 C 0.46 0.87 0.36 1 0.22 1 C 0.11 1 0.03 0.93 0 0.8 M 0.66 0 L 1.13 0 C 0.99 0.22 0.86 0.55 0.8 1 M 1.55 0 C 1.672 0 1.77 0.2238 1.77 0.5 C 1.77 0.7762 1.672 1 1.55 1 C 1.428 1 1.33 0.7762 1.33 0.5 C 1.33 0.2238 1.428 0 1.55 0"/>
<text class="ht" transform="translate(2691,886.5) rotate(-90)" x="0" y="10" text-anchor="middle" style="font-size:28px">570</text>
<line x1="2461.8" y1="676.4" x2="2461.8" y2="1099.3"/>
<path class="ar" d="M2461.8,676.4 L2466.4,697.4 L2457.2,697.4 Z"/>
<path class="ar" d="M2461.8,1099.3 L2457.2,1078.3 L2466.4,1078.3 Z"/>
<path class="dg" transform="translate(2434.9,941) rotate(-90) translate(-24.87,-14.6) matrix(28.0677,0,-3.3681,29.2000,3.3681,0)" d="M 0.43 0 L 0.09 0 L 0.05 0.44 C 0.11 0.39 0.17 0.37 0.24 0.37 C 0.38 0.37 0.46 0.48 0.46 0.66 C 0.46 0.87 0.36 1 0.22 1 C 0.11 1 0.03 0.93 0 0.8 M 0.66 0.36 L 0.96 0 L 0.89 1 M 1.65 0.18 C 1.61 0.06 1.53 0 1.45 0 C 1.3 0 1.22 0.24 1.22 0.6 L 1.22 0.69 M 1.44 0.38 C 1.562 0.38 1.66 0.5188 1.66 0.69 C 1.66 0.8612 1.562 1 1.44 1 C 1.318 1 1.22 0.8612 1.22 0.69 C 1.22 0.5188 1.318 0.38 1.44 0.38"/>
<text class="ht" transform="translate(2434.9,941) rotate(-90)" x="0" y="10" text-anchor="middle" style="font-size:28px">516</text>
<line x1="1989.1" y1="803.1" x2="2612.8" y2="803.1"/>
<path class="ar" d="M1989.1,803.1 L2010.1,798.5 L2010.1,807.7 Z"/>
<path class="ar" d="M2612.8,803.1 L2591.8,807.7 L2591.8,798.5 Z"/>
<path class="dg" transform="translate(2207.03,762.1) matrix(26.8721,0,-3.2247,27.8000,3.2247,0)" d="M 0 0 L 0.47 0 C 0.33 0.22 0.2 0.55 0.14 1 M 1.1 0.18 C 1.06 0.06 0.98 0 0.9 0 C 0.75 0 0.67 0.24 0.67 0.6 L 0.67 0.69 M 0.89 0.38 C 1.012 0.38 1.11 0.5188 1.11 0.69 C 1.11 0.8612 1.012 1 0.89 1 C 0.7685 1 0.67 0.8612 0.67 0.69 C 0.67 0.5188 0.7685 0.38 0.89 0.38 M 1.33 0.2 C 1.37 0.07 1.44 0 1.54 0 C 1.66 0 1.73 0.08 1.73 0.2 C 1.73 0.33 1.64 0.44 1.48 0.44 M 1.48 0.44 C 1.66 0.44 1.76 0.55 1.76 0.71 C 1.76 0.88 1.66 1 1.52 1 C 1.41 1 1.33 0.93 1.31 0.79"/>
<text class="ht" x="2233.2" y="786" text-anchor="middle" style="font-size:28px">763</text>
<line x1="1955.3" y1="1430.7" x2="2580.4" y2="1430.7"/>
<path class="ar" d="M1955.3,1430.7 L1976.3,1426.1 L1976.3,1435.3 Z"/>
<path class="ar" d="M2580.4,1430.7 L2559.4,1435.3 L2559.4,1426.1 Z"/>
<path class="dg" transform="translate(2243.45,1389.75) matrix(26.6379,0,-3.1966,27.5000,3.1966,0)" d="M 0 0 L 0.47 0 C 0.33 0.22 0.2 0.55 0.14 1 M 1.1 0.18 C 1.06 0.06 0.98 0 0.9 0 C 0.75 0 0.67 0.24 0.67 0.6 L 0.67 0.69 M 0.89 0.38 C 1.012 0.38 1.11 0.5188 1.11 0.69 C 1.11 0.8612 1.012 1 0.89 1 C 0.7685 1 0.67 0.8612 0.67 0.69 C 0.67 0.5188 0.7685 0.38 0.89 0.38 M 1.33 0.2 C 1.37 0.07 1.44 0 1.54 0 C 1.66 0 1.73 0.08 1.73 0.2 C 1.73 0.33 1.64 0.44 1.48 0.44 M 1.48 0.44 C 1.66 0.44 1.76 0.55 1.76 0.71 C 1.76 0.88 1.66 1 1.52 1 C 1.41 1 1.33 0.93 1.31 0.79"/>
<text class="ht" x="2269.4" y="1413.5" text-anchor="middle" style="font-size:28px">763</text>
<line x1="1876" y1="1531.4" x2="2580.4" y2="1531.4"/>
<path class="ar" d="M1876,1531.4 L1897,1526.8 L1897,1536 Z"/>
<path class="ar" d="M2580.4,1531.4 L2559.4,1536 L2559.4,1526.8 Z"/>
<path class="dg" transform="translate(2206.13,1490.5) matrix(26.0449,0,-3.1254,26.2000,3.1254,0)" d="M 0.22 0 C 0.3222 0 0.405 0.1052 0.405 0.235 C 0.405 0.3648 0.3222 0.47 0.22 0.47 C 0.1178 0.47 0.035 0.3648 0.035 0.235 C 0.035 0.1052 0.1178 0 0.22 0 M 0.22 0.47 C 0.3415 0.47 0.44 0.5886 0.44 0.735 C 0.44 0.8814 0.3415 1 0.22 1 C 0.09849 1 0 0.8814 0 0.735 C 0 0.5886 0.09849 0.47 0.22 0.47 M 1.07 0.18 C 1.03 0.06 0.95 0 0.87 0 C 0.72 0 0.64 0.24 0.64 0.6 L 0.64 0.69 M 0.86 0.38 C 0.9815 0.38 1.08 0.5188 1.08 0.69 C 1.08 0.8612 0.9815 1 0.86 1 C 0.7385 1 0.64 0.8612 0.64 0.69 C 0.64 0.5188 0.7385 0.38 0.86 0.38 M 1.5 0 C 1.622 0 1.72 0.2238 1.72 0.5 C 1.72 0.7762 1.622 1 1.5 1 C 1.378 1 1.28 0.7762 1.28 0.5 C 1.28 0.2238 1.378 0 1.5 0"/>
<text class="ht" x="2229.8" y="1513.6" text-anchor="middle" style="font-size:28px">860</text>
<line x1="2928.4" y1="207" x2="3358.7" y2="207"/>
<line x1="2988" y1="209.7" x2="3300" y2="209.7"/>
<line x1="2967" y1="209.7" x2="2988" y2="209.7"/>
<path d="M2928.4,207 L2928.4,1240.1 L2979.5,1240.1"/>
<path d="M2931,207 L2949.1,227.7 L2949.1,1240.1"/>
<line x1="2949.1" y1="227.7" x2="2979.5" y2="227.7"/>
<line x1="2979.5" y1="209.7" x2="2979.5" y2="531.7"/>
<path d="M2979.5,566.5 L2979.5,1248.4 L2999.9,1248.4"/>
<line x1="2999.9" y1="209.7" x2="2999.9" y2="1336.7"/>
<path d="M3300.2,209.7 Q3304.4,209.7 3304.4,214 L3304.4,600.4"/>
<line x1="3300.2" y1="213" x2="3300.2" y2="600.4"/>
<line x1="3300.2" y1="600.4" x2="3317.3" y2="600.4"/>
<rect x="3292" y="587.5" width="8.2" height="4.7"/>
<line x1="3285.6" y1="607.3" x2="3317.3" y2="607.3"/>
<line x1="3285.6" y1="607.3" x2="3285.6" y2="1234.6"/>
<line x1="3285.6" y1="1234.6" x2="3317.3" y2="1234.6"/>
<path d="M3285.6,610 l3,-2.7 l-1.8,6" class="fill"/>
<path d="M3285.6,1232 l3,-2.7 l-1.8,3" class="fill"/>
<path d="M3317.3,1240.1 L3317.3,214 Q3317.3,209.7 3321,209.7 L3354,209.7 Q3358.7,209.7 3358.7,213"/>
<line x1="3304.4" y1="227.7" x2="3317.3" y2="227.7"/>
<line x1="3317.3" y1="1240.1" x2="3358.7" y2="1240.1"/>
<line x1="3358.7" y1="129.7" x2="3358.7" y2="1240.1"/>
<line x1="3399.6" y1="129.7" x2="3399.6" y2="1120.6"/>
<line x1="3355.4" y1="1240.1" x2="3355.4" y2="1336.7"/>
<path d="M3358.7,654.2 L3375,654.2 L3376,657 L3381,657 L3382,654.2 L3399.6,654.2"/>
<line x1="3358.7" y1="657" x2="3399.6" y2="657"/>
<path d="M3358.7,1117.4 L3375,1117.4 L3376,1120.6 L3381,1120.6 L3382,1117.4 L3399.6,1117.4"/>
<line x1="3358.7" y1="1120.6" x2="3399.6" y2="1120.6"/>
<rect x="3399.6" y="1111.5" width="11.4" height="2.5"/>
<line x1="3358.7" y1="1122" x2="3358.7" y2="1235"/>
<rect x="3358.7" y="1120.6" width="20.7" height="98.8"/>
<path d="M3358.7,1131.5 a2.2,3.5 0 0 1 0,7"/>
<path d="M3358.7,1192.5 a2.2,3.5 0 0 1 0,7"/>
<path d="M3358.7,1224.5 a2.2,3.5 0 0 1 0,7"/>
<rect x="3400" y="894.7" width="28.9" height="14.9"/>
<path d="M3428.9,1011.5 L3428.9,886 Q3428.9,883.9 3431,883.9 L3444.5,883.9 Q3446.6,883.9 3446.6,886 L3446.6,1011.5 Q3446.6,1013.7 3444.5,1013.7 L3431,1013.7 Q3428.9,1013.7 3428.9,1011.5Z"/>
<line x1="3428.9" y1="894.7" x2="3446.6" y2="894.7"/>
<line x1="3428.9" y1="931.4" x2="3446.6" y2="931.4"/>
<rect x="2975.4" y="531.7" width="24.5" height="34.8"/>
<rect x="2995.8" y="683.2" width="4.1" height="5.6"/>
<rect x="2968.5" y="413.4" width="11" height="10.2"/>
<rect x="3304.4" y="413.4" width="3.1" height="10.2"/>
<circle cx="3146.5" cy="686" r="2.2"/>
<rect x="3241" y="626" width="3.5" height="9"/>
<path d="M3226.5,649 L3234.5,646.8 L3235.5,650 L3227.5,652.2 Z"/>
<path d="M3069,1336.7 Q3073.3,1336.7 3073.3,1332 L3073.3,1290 C3073.3,1266 3090,1248.4 3114,1248.4 L3242.3,1248.4 C3265,1248.4 3282.3,1266 3282.3,1287 L3282.3,1332 Q3282.3,1336.7 3286,1336.7 L3355.4,1336.7"/>
<path d="M3272.6,1264.5 L3272.6,1332 Q3272.6,1336.7 3276,1336.7"/>
<line x1="2999.9" y1="1336.7" x2="3069" y2="1336.7"/>
<rect x="3149.2" y="1248.4" width="101.3" height="55.2"/>
<path d="M3205,1248.4 L3213.3,1259.5 L3199.5,1274.6 L3199.5,1303.6" class="thick"/>
<rect x="2995.8" y="1309.3" width="46.3" height="6.3"/>
<line x1="2999.9" y1="1315.6" x2="2999.9" y2="1336.7"/>
<line x1="3042.1" y1="1315.6" x2="3042.1" y2="1336.7"/>
<line x1="3038.45" y1="1315.6" x2="3038.45" y2="1336.7"/>
<line x1="3031.45" y1="1315.6" x2="3031.45" y2="1322.9"/>
<line x1="3023.45" y1="1315.6" x2="3023.45" y2="1322.9"/>
<line x1="3014.65" y1="1315.6" x2="3014.65" y2="1322.9"/>
<rect x="3013.45" y="1322.9" width="20" height="5.5"/>
<line x1="3029.95" y1="1322.9" x2="3029.95" y2="1328.4"/>
<line x1="3024.45" y1="1322.9" x2="3024.45" y2="1328.4"/>
<line x1="3021.95" y1="1322.9" x2="3021.95" y2="1328.4"/>
<line x1="3015.95" y1="1322.9" x2="3015.95" y2="1328.4"/>
<path d="M3041.95,1336.7 L3035.45,1328.7 L3015.45,1328.7 L3008.45,1336.7"/>
<path d="M3015.45,1328.7 L3006.95,1332.7"/>
<line x1="2999.9" y1="1336.7" x2="3042.1" y2="1336.7"/>
<rect x="3313.2" y="1309.3" width="46.4" height="6.3"/>
<line x1="3313.2" y1="1315.6" x2="3313.2" y2="1336.7"/>
<line x1="3352" y1="1315.6" x2="3352" y2="1336.7"/>
<line x1="3312.4" y1="1315.6" x2="3312.4" y2="1336.7"/>
<line x1="3319.4" y1="1315.6" x2="3319.4" y2="1322.9"/>
<line x1="3327.4" y1="1315.6" x2="3327.4" y2="1322.9"/>
<line x1="3336.2" y1="1315.6" x2="3336.2" y2="1322.9"/>
<rect x="3317.4" y="1322.9" width="20" height="5.5"/>
<line x1="3320.9" y1="1322.9" x2="3320.9" y2="1328.4"/>
<line x1="3326.4" y1="1322.9" x2="3326.4" y2="1328.4"/>
<line x1="3328.9" y1="1322.9" x2="3328.9" y2="1328.4"/>
<line x1="3334.9" y1="1322.9" x2="3334.9" y2="1328.4"/>
<path d="M3308.9,1336.7 L3315.4,1328.7 L3335.4,1328.7 L3342.4,1336.7"/>
<path d="M3335.4,1328.7 L3343.9,1332.7"/>
<line x1="3313.2" y1="1336.7" x2="3352" y2="1336.7"/>
<rect x="3058.7" y="141.3" width="162.9" height="65.7"/>
<rect x="3078.5" y="173.8" width="11" height="3.2" rx="1.5"/>
<rect x="3193.5" y="173.8" width="11" height="3.2" rx="1.5"/>
<rect x="3134" y="182.4" width="35.1" height="24.6"/>
<path d="M3007.6,207 L3007.6,172.5 Q3007.6,170.3 3010,170.3 L3023,170.3 Q3025.6,170.3 3025.6,172.5 L3025.6,207"/>
<line x1="3007.6" y1="172.8" x2="3025.6" y2="172.8"/>
<path d="M2988.3,207 L2988.3,189 Q2988.3,187.1 2990,187.1 L3007.6,187.1"/>
<line x1="2988.3" y1="189.5" x2="3007.6" y2="189.5"/>
<rect x="2967" y="207" width="21" height="3"/>
<line x1="3317.6" y1="156.5" x2="3482.4" y2="156.5"/>
<path class="ar" d="M3358.7,156.5 L3337.7,161.1 L3337.7,151.9 Z"/>
<path class="ar" d="M3399.6,156.5 L3420.6,151.9 L3420.6,161.1 Z"/>
<path class="dg" transform="translate(3445.79,116.6) matrix(25.5239,0,-3.0629,25.6000,3.0629,0)" d="M 0.43 0 L 0.09 0 L 0.05 0.44 C 0.11 0.39 0.17 0.37 0.24 0.37 C 0.38 0.37 0.46 0.48 0.46 0.66 C 0.46 0.87 0.36 1 0.22 1 C 0.11 1 0.03 0.93 0 0.8 M 0.88 0 C 1.002 0 1.1 0.2238 1.1 0.5 C 1.1 0.7762 1.002 1 0.88 1 C 0.7585 1 0.66 0.7762 0.66 0.5 C 0.66 0.2238 0.7585 0 0.88 0"/>
<text class="ht" x="3461" y="139.4" text-anchor="middle" style="font-size:28px">50</text>
<line x1="2231.5" y1="1721.3" x2="2231.5" y2="2129.9"/>
<line x1="1830.1" y1="2028.3" x2="2325.2" y2="2028.3"/>
<path d="M1830.1,1817 L2575,1817 Q2580,1817 2580,1822 L2580,1896.3"/>
<line x1="2621.3" y1="1721.3" x2="2621.3" y2="2282.5"/>
<path d="M2621.3,2282.5 Q2621.3,2287.7 2616,2287.7"/>
<line x1="2621.3" y1="2287.7" x2="2621.3" y2="2413.2"/>
<line x1="2580" y1="1896.3" x2="2745.4" y2="1896.3"/>
<line x1="1955.5" y1="2287.7" x2="2745.4" y2="2287.7"/>
<line x1="1955.5" y1="2247" x2="1955.5" y2="2413.2"/>
<line x1="1856.5" y1="1817" x2="1856.5" y2="2028.3"/>
<path class="ar" d="M1856.5,1817 L1861.1,1838 L1851.9,1838 Z"/>
<path class="ar" d="M1856.5,2028.3 L1851.9,2007.3 L1861.1,2007.3 Z"/>
<path class="dg" transform="translate(1830.6,1921) rotate(-90) translate(-23.75,-14.2) matrix(26.2583,0,-3.1510,28.4000,3.1510,0)" d="M 0.01 0.25 C 0.04 0.09 0.12 0 0.23 0 C 0.36 0 0.44 0.09 0.44 0.22 C 0.44 0.36 0.34 0.46 0.19 0.58 C 0.07 0.69 0.01 0.82 0 1 L 0.45 1 M 1.08 0 L 0.74 0 L 0.7 0.44 C 0.76 0.39 0.82 0.37 0.89 0.37 C 1.03 0.37 1.11 0.48 1.11 0.66 C 1.11 0.87 1.01 1 0.87 1 C 0.76 1 0.68 0.93 0.65 0.8 M 1.53 0 C 1.632 0 1.715 0.1052 1.715 0.235 C 1.715 0.3648 1.632 0.47 1.53 0.47 C 1.428 0.47 1.345 0.3648 1.345 0.235 C 1.345 0.1052 1.428 0 1.53 0 M 1.53 0.47 C 1.652 0.47 1.75 0.5886 1.75 0.735 C 1.75 0.8814 1.652 1 1.53 1 C 1.408 1 1.31 0.8814 1.31 0.735 C 1.31 0.5886 1.408 0.47 1.53 0.47"/>
<text class="ht" transform="translate(1830.6,1921) rotate(-90)" x="0" y="10" text-anchor="middle" style="font-size:28px">258</text>
<line x1="2231.5" y1="1747.2" x2="2621.3" y2="1747.2"/>
<path class="ar" d="M2231.5,1747.2 L2252.5,1742.6 L2252.5,1751.8 Z"/>
<path class="ar" d="M2621.3,1747.2 L2600.3,1751.8 L2600.3,1742.6 Z"/>
<path class="dg" transform="translate(2403.32,1706.55) matrix(24.8764,0,-2.9852,26.7000,2.9852,0)" d="M 0.34 1 L 0.39 0 L 0 0.69 L 0.5 0.69 M 0.7 0 L 1.17 0 C 1.03 0.22 0.9 0.55 0.84 1 M 1.8 0.18 C 1.76 0.06 1.68 0 1.6 0 C 1.45 0 1.37 0.24 1.37 0.6 L 1.37 0.69 M 1.59 0.38 C 1.712 0.38 1.81 0.5188 1.81 0.69 C 1.81 0.8612 1.712 1 1.59 1 C 1.468 1 1.37 0.8612 1.37 0.69 C 1.37 0.5188 1.468 0.38 1.59 0.38"/>
<text class="ht" x="2427.4" y="1729.9" text-anchor="middle" style="font-size:28px">476</text>
<line x1="2719.4" y1="1896.3" x2="2719.4" y2="2287.7"/>
<path class="ar" d="M2719.4,1896.3 L2724,1917.3 L2714.8,1917.3 Z"/>
<path class="ar" d="M2719.4,2287.7 L2714.8,2266.7 L2724,2266.7 Z"/>
<path class="dg" transform="translate(2692.7,2090) rotate(-90) translate(-24.71,-13.65) matrix(25.9314,0,-3.1118,27.3000,3.1118,0)" d="M 0.34 1 L 0.39 0 L 0 0.69 L 0.5 0.69 M 0.7 0 L 1.17 0 C 1.03 0.22 0.9 0.55 0.84 1 M 1.59 0 C 1.692 0 1.775 0.1052 1.775 0.235 C 1.775 0.3648 1.692 0.47 1.59 0.47 C 1.488 0.47 1.405 0.3648 1.405 0.235 C 1.405 0.1052 1.488 0 1.59 0 M 1.59 0.47 C 1.712 0.47 1.81 0.5886 1.81 0.735 C 1.81 0.8814 1.712 1 1.59 1 C 1.468 1 1.37 0.8814 1.37 0.735 C 1.37 0.5886 1.468 0.47 1.59 0.47"/>
<text class="ht" transform="translate(2692.7,2090) rotate(-90)" x="0" y="10" text-anchor="middle" style="font-size:28px">478</text>
<line x1="1955.5" y1="2387.5" x2="2621.3" y2="2387.5"/>
<path class="ar" d="M1955.5,2387.5 L1976.5,2382.9 L1976.5,2392.1 Z"/>
<path class="ar" d="M2621.3,2387.5 L2600.3,2392.1 L2600.3,2382.9 Z"/>
<path class="dg" transform="translate(2266.35,2347.65) matrix(27.0643,0,-3.2477,24.7000,3.2477,0)" d="M 0.22 0 C 0.3222 0 0.405 0.1052 0.405 0.235 C 0.405 0.3648 0.3222 0.47 0.22 0.47 C 0.1178 0.47 0.035 0.3648 0.035 0.235 C 0.035 0.1052 0.1178 0 0.22 0 M 0.22 0.47 C 0.3415 0.47 0.44 0.5886 0.44 0.735 C 0.44 0.8814 0.3415 1 0.22 1 C 0.09849 1 0 0.8814 0 0.735 C 0 0.5886 0.09849 0.47 0.22 0.47 M 0.64 0.36 L 0.94 0 L 0.87 1 M 1.22 0.2 C 1.26 0.07 1.33 0 1.43 0 C 1.55 0 1.62 0.08 1.62 0.2 C 1.62 0.33 1.53 0.44 1.37 0.44 M 1.37 0.44 C 1.55 0.44 1.65 0.55 1.65 0.71 C 1.65 0.88 1.55 1 1.41 1 C 1.3 1 1.22 0.93 1.2 0.79"/>
<text class="ht" x="2290" y="2370" text-anchor="middle" style="font-size:28px">813</text>
<path d="M1935,2192.7 L1935,1882.3 Q1935,1876.3 1941,1876.3 L2074.4,1876.3 L2096.5,1855.6 L2366.6,1855.6 L2388.7,1876.3 L2521.3,1876.3 Q2527.3,1876.3 2527.3,1882.3 L2527.3,2192.7 Z"/>
<line x1="2529.8" y1="1888" x2="2529.8" y2="2192.7"/>
<rect x="1975.5" y="1864.2" width="35" height="12.1"/>
<rect x="2453.4" y="1864.2" width="34.6" height="12.1"/>
<line x1="1975.5" y1="1865.5" x2="2010.5" y2="1865.5"/>
<line x1="2453.4" y1="1865.5" x2="2488" y2="1865.5"/>
<path d="M2507.2,1876.3 L2507.2,1872 Q2507.2,1867.3 2512,1867.3 L2539.3,1867.3"/>
<line x1="2529.8" y1="1888" x2="2539.3" y2="1888"/>
<circle cx="2021" cy="1904.8" r="8.5" class="thick"/>
<circle cx="2021" cy="1904.8" r="5.3"/>
<circle cx="2021" cy="1904.8" r="6.9"/>
<circle cx="2178.2" cy="1888.2" r="7.5"/>
<circle cx="2178.2" cy="1888.2" r="5.8"/>
<circle cx="2284.8" cy="1888.2" r="11" class="thick"/>
<circle cx="2284.8" cy="1888.2" r="7.2"/>
<circle cx="2284.8" cy="1888.2" r="9.4"/>
<circle cx="2442" cy="1904.6" r="8.5" class="thick"/>
<circle cx="2442" cy="1904.6" r="5.3"/>
<circle cx="2442" cy="1904.6" r="6.9"/>
<circle cx="1971.8" cy="2039.8" r="17.6" class="thick"/>
<circle cx="1971.8" cy="2039.8" r="15"/>
<line x1="1969.8" y1="2026" x2="1969.8" y2="2054.5"/>
<circle cx="2490.7" cy="2039.8" r="17.6" class="thick"/>
<circle cx="2490.7" cy="2039.8" r="15"/>
<line x1="2488.7" y1="2026" x2="2488.7" y2="2054.5"/>
<rect x="1946.9" y="2010.2" width="4.1" height="9.1"/>
<rect x="2511.8" y="2010.2" width="4.2" height="9.1"/>
<circle cx="2231.5" cy="2028.3" r="81.6" class="thick"/>
<circle cx="2231.5" cy="2028.3" r="79.4"/>
<circle cx="2231.5" cy="2028.3" r="74.6"/>
<line x1="2159.8" y1="2007.7" x2="2303.2" y2="2007.7"/>
<line x1="2157.35" y1="2020.1" x2="2305.65" y2="2020.1"/>
<line x1="2169.24" y1="2069.4" x2="2293.76" y2="2069.4"/>
<line x1="2178.9" y1="2081.2" x2="2284.1" y2="2081.2"/>
<line x1="2207.5" y1="1958.4" x2="2255.5" y2="1958.4"/>
<path d="M2291.6,1976.68 L2295.85,1972.44 L2287.36,1963.95 L2283.12,1968.2"/>
<path d="M2179.88,1968.2 L2175.64,1963.95 L2167.15,1972.44 L2171.4,1976.68"/>
<path d="M2171.4,2079.92 L2167.15,2084.16 L2175.64,2092.65 L2179.88,2088.4"/>
<path d="M2283.12,2088.4 L2287.36,2092.65 L2295.85,2084.16 L2291.6,2079.92"/>
<path d="M2539.3,2205.6 L2539.3,1820 Q2539.3,1817 2542,1817"/>
<line x1="2580" y1="1896.3" x2="2580" y2="2243.5"/>
<path d="M2580,2243.5 Q2580,2246.6 2577,2246.6"/>
<rect x="2554.2" y="1858" width="11.4" height="20.6" rx="3.2"/>
<rect x="2554.2" y="1939.9" width="11.4" height="20.6" rx="3.2"/>
<rect x="2554.2" y="2021.5" width="11.4" height="20.6" rx="3.2"/>
<rect x="2554.2" y="2103.3" width="11.4" height="20.6" rx="3.2"/>
<rect x="2554.2" y="2185" width="11.4" height="20.6" rx="3.2"/>
<line x1="2554.2" y1="1867.3" x2="2565.6" y2="1867.3"/>
<path d="M2580,1964.6 L2582.5,1964.6 Q2584.8,1964.6 2584.8,1967.1 L2584.8,2003.5 Q2584.8,2006 2582.5,2006 L2580,2006"/>
<line x1="2581.5" y1="1966.6" x2="2581.5" y2="2004"/>
<path d="M2580,2022.6 L2582.5,2022.6 Q2584.8,2022.6 2584.8,2025.1 L2584.8,2106.5 Q2584.8,2109 2582.5,2109 L2580,2109"/>
<line x1="2581.5" y1="2024.6" x2="2581.5" y2="2107"/>
<path d="M2580,2124.5 L2582.5,2124.5 Q2584.8,2124.5 2584.8,2127 L2584.8,2209.5 Q2584.8,2212 2582.5,2212 L2580,2212"/>
<line x1="2581.5" y1="2126.5" x2="2581.5" y2="2210"/>
<rect x="2585.3" y="1924.2" width="22.7" height="22.8" rx="3"/>
<circle cx="2591.3" cy="1930.7" r="2.6"/>
<circle cx="2601.2" cy="1930.7" r="2.6"/>
<path d="M2587.5,1930 C2587,1940 2593,1945 2600,1944.5 C2605,1944 2606,1938 2602,1936 L2595,1936"/>
<path d="M2600.5,1936.5 L2601.8,1942 L2600,1942 Z" class="fill"/>
<circle cx="2601.4" cy="1912.8" r="1.4"/>
<circle cx="2601.4" cy="1970.8" r="1.4"/>
<circle cx="2601.4" cy="2003.9" r="1.4"/>
<rect x="2596.7" y="1896.3" width="7.8" height="3.7"/>
<path d="M2580,2246.6 L1881,2246.6 Q1876.5,2246.6 1876.5,2242 L1876.5,2210.5 Q1876.5,2205.7 1881,2205.7 L2538.8,2205.7"/>
<line x1="2538.8" y1="2205.7" x2="2577.5" y2="2243.8"/>
<line x1="2516" y1="2192.7" x2="2531.5" y2="2205.7"/>
<rect x="1916.4" y="2221.2" width="21.2" height="10.6" rx="3.2"/>
<rect x="1998.1" y="2221.2" width="21.2" height="10.6" rx="3.2"/>
<rect x="2079.8" y="2221.2" width="21.2" height="10.6" rx="3.2"/>
<rect x="2161.5" y="2221.2" width="21.2" height="10.6" rx="3.2"/>
<rect x="2243.2" y="2221.2" width="21.2" height="10.6" rx="3.2"/>
<rect x="2324.9" y="2221.2" width="21.2" height="10.6" rx="3.2"/>
<rect x="2406.6" y="2221.2" width="21.2" height="10.6" rx="3.2"/>
<rect x="2488.3" y="2221.2" width="21.2" height="10.6" rx="3.2"/>
<line x1="1925.5" y1="2221.2" x2="1925.5" y2="2231.8"/>
<path d="M2003.5,2246.6 L2005,2249.5 Q2005.5,2251.1 2007.5,2251.1 L2122.7,2251.1 Q2124.7,2251.1 2125.2,2249.5 L2126.7,2246.6"/>
<line x1="2005.5" y1="2248.6" x2="2124.7" y2="2248.6"/>
<path d="M2142.1,2246.6 L2143.6,2249.5 Q2144.1,2251.1 2146.1,2251.1 L2261.5,2251.1 Q2263.5,2251.1 2264,2249.5 L2265.5,2246.6"/>
<line x1="2144.1" y1="2248.6" x2="2263.5" y2="2248.6"/>
<path d="M2281,2246.6 L2282.5,2249.5 Q2283,2251.1 2285,2251.1 L2401,2251.1 Q2403,2251.1 2403.5,2249.5 L2405,2246.6"/>
<line x1="2283" y1="2248.6" x2="2403" y2="2248.6"/>
<path d="M2420,2246.6 L2421.5,2249.5 Q2422,2251.1 2424,2251.1 L2540,2251.1 Q2542,2251.1 2542.5,2249.5 L2544,2246.6"/>
<line x1="2422" y1="2248.6" x2="2542" y2="2248.6"/>
<path d="M1926.4,2205.7 L1926.4,2179 Q1926.4,2174 1931,2174 L1935,2174"/>
<line x1="1947.6" y1="2192.7" x2="1947.6" y2="2205.7"/>
<line x1="1950.5" y1="2192.7" x2="1950.5" y2="2205.7"/>
<rect x="1955.5" y="2263.6" width="4" height="8.1"/>
<path d="M1968.8,2287.7 L1969.5,2291 L1984,2305 L1984,2317" class="thick2"/>
<path d="M1971.4,2287.7 L1972,2290 L1986.5,2304 L1986.5,2317"/>
<circle cx="1985.2" cy="2325.6" r="8.8" class="thick"/>
<path d="M2224,2287.7 L2233,2297.5 Q2235,2299 2237,2297.5 L2246,2287.7"/>
<path d="M2232,2287.7 L2236.5,2294 L2238,2292.5" class="thick"/>
<clipPath id="tclip"><rect x="0" y="2285.8" width="1100" height="78.6"/></clipPath>
<path class="ttl" clip-path="url(#tclip)" d="M18.2,2373.4 L18.2,2280 L52.4,2366 L85.6,2280 L85.6,2373.4 M234.36,2372.91 L267.44,2277.29 M432.93,2372.9 L466.37,2277.3 M593.94,2372.9 L627.26,2277.3 M694.87,2372.91 L727.83,2277.29 M860.9,2372.92 L893.5,2277.28 M166.38,2372.88 L201.92,2273.02 M231.53,2372.88 L195.87,2273.02 M179.5,2334.4 L218.5,2334.4 M112.7,2277.8 L112.7,2372.4 M112.7,2288.5 L138.3,2288.5 C148.52,2288.5 156.8,2296.36 156.8,2306.05 C156.8,2315.74 148.52,2323.6 138.3,2323.6 L112.7,2323.6 M112.7,2323.6 L135.9,2323.6 C148.33,2323.6 158.4,2332.13 158.4,2342.65 C158.4,2353.17 148.33,2361.7 135.9,2361.7 L112.7,2361.7  M743.6,2277.8 L743.6,2372.4 M743.6,2288.5 L765.7,2288.5 C775.92,2288.5 784.2,2296.36 784.2,2306.05 C784.2,2315.74 775.92,2323.6 765.7,2323.6 L743.6,2323.6 M743.6,2323.6 L767.1,2323.6 C779.53,2323.6 789.6,2332.13 789.6,2342.65 C789.6,2353.17 779.53,2361.7 767.1,2361.7 L743.6,2361.7  M282.7,2277.8 L282.7,2372.4 M282.7,2288.5 L301,2288.5 C313.87,2288.5 324.3,2297.59 324.3,2308.8 C324.3,2320.01 313.87,2329.1 301,2329.1 L282.7,2329.1  M642.6,2277.8 L642.6,2372.4 M642.6,2288.5 L661,2288.5 C673.87,2288.5 684.3,2297.59 684.3,2308.8 C684.3,2320.01 673.87,2329.1 661,2329.1 L642.6,2329.1  M337.18,2277.03 L357.7,2366 L381.4,2280 L403.7,2366 L427.42,2277.1 M896.55,2277.14 L921.7,2366 L944.3,2280 L966.8,2366 L989.53,2277.08 M479.8,2303.4 L500.8,2287.6 L501.47,2373.4 M536.2,2288.5 L581.5,2288.5 L549.51,2372.81 M851.2,2292.8 C845,2289 838,2288.3 829.5,2288.3 C815.5,2288.3 807.7,2295.5 807.7,2304.8 C807.7,2314.5 815,2319 829.5,2324.2 C844.5,2329.6 850.6,2335.6 850.6,2346 C850.6,2356.5 841,2362.7 827.5,2362.7 C818,2362.7 811,2361 805.6,2358.3"/>
<text class="ht" x="15" y="2363" style="font-size:110px">MBA/PW/17/P/BS/W</text>
</svg>
</body></html>
